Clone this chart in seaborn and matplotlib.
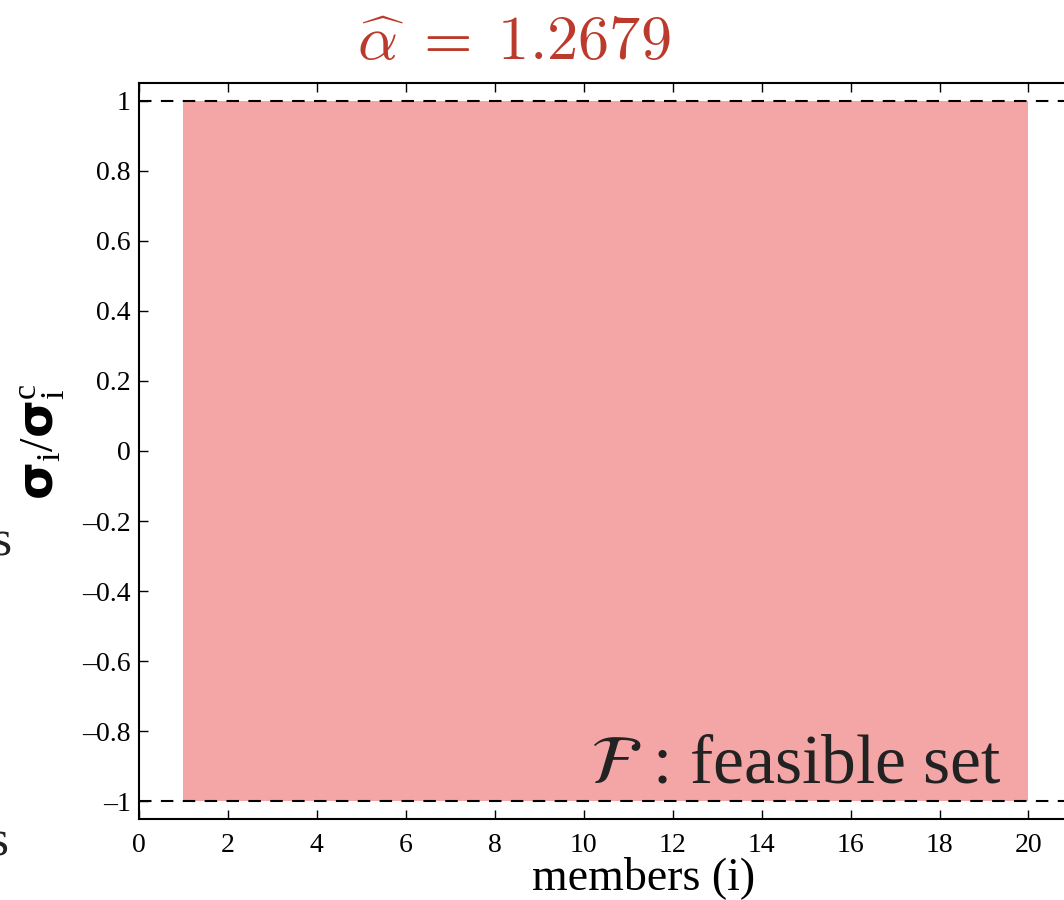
import numpy as np
import matplotlib
matplotlib.use("Agg")
import matplotlib.pyplot as plt
import seaborn as sns

# members of the structure and the admissible stress-ratio band
members = [1, 2, 3, 4, 5, 6, 7, 8, 9, 10, 11, 12, 13, 14, 15, 16, 17, 18, 19, 20]
ratio_upper = [1.0, 1.0, 1.0, 1.0, 1.0, 1.0, 1.0, 1.0, 1.0, 1.0,
               1.0, 1.0, 1.0, 1.0, 1.0, 1.0, 1.0, 1.0, 1.0, 1.0]
ratio_lower = [-1.0, -1.0, -1.0, -1.0, -1.0, -1.0, -1.0, -1.0, -1.0, -1.0,
               -1.0, -1.0, -1.0, -1.0, -1.0, -1.0, -1.0, -1.0, -1.0, -1.0]
bounds = [-1.0, 1.0]
alpha_hat = 1.2679

x_ticks = [0, 2, 4, 6, 8, 10, 12, 14, 16, 18, 20]
y_ticks = [-1, -0.8, -0.6, -0.4, -0.2, 0, 0.2, 0.4, 0.6, 0.8, 1]
y_ticklabels = ["\u20131", "\u20130.8", "\u20130.6", "\u20130.4", "\u20130.2", "0",
                "0.2", "0.4", "0.6", "0.8", "1"]

sns.set_theme(style="ticks")
plt.rcParams["font.family"] = ["Liberation Serif", "DejaVu Serif"]
plt.rcParams["mathtext.fontset"] = "custom"
plt.rcParams["mathtext.rm"] = "Liberation Serif"
plt.rcParams["mathtext.it"] = "Liberation Serif:italic"
plt.rcParams["mathtext.bf"] = "DejaVu Sans:bold"

fig = plt.figure(figsize=(10.64, 9.0), dpi=100)
ax = fig.add_axes([0.1306, 0.09, 0.8778, 0.8178])

# feasible region
ax.fill_between(members, ratio_lower, ratio_upper, color="#F4A6A6", linewidth=0, zorder=1)

# stress-ratio limits
for b in bounds:
    ax.axhline(b, color="black", linewidth=1.5, dashes=(6, 4.5), zorder=2)

ax.set_xlim(0, 21)
ax.set_ylim(-1.05, 1.05)
ax.set_xticks(x_ticks)
ax.set_xticklabels([str(t) for t in x_ticks])
ax.set_yticks(y_ticks)
ax.set_yticklabels(y_ticklabels)

for side in ["left", "right", "top", "bottom"]:
    ax.spines[side].set_visible(True)
    ax.spines[side].set_color("black")
    ax.spines[side].set_linewidth(1.5)

ax.tick_params(axis="both", which="major", direction="in", length=6.5, width=1.0,
               color="black", labelsize=20, labelcolor="black",
               top=True, right=True)
ax.tick_params(axis="x", pad=10)
ax.tick_params(axis="y", pad=6)

ax.set_xlabel("members (i)", fontsize=33, color="black")
ax.xaxis.set_label_coords(0.5407, -0.05)

ax.set_ylabel(r"$\mathbf{\sigma}_{\mathrm{i}}/\mathbf{\sigma}_{\mathrm{i}}^{\mathrm{c}}$",
              fontsize=35, color="black")
ax.yaxis.set_label_coords(-0.077, 0.512)

ax.text(19.4, -0.946, r"$\mathcal{F}$ : feasible set", fontsize=50, color="#222222",
        ha="right", va="baseline", math_fontfamily="stix", zorder=3)

fig.text(0.483, 1 - 60 / 900, r"$\widehat{\alpha}\;=\;%.4f$" % alpha_hat,
         fontsize=45, color="#BC3A2B", ha="center", va="baseline",
         math_fontfamily="cm")

# edge of the neighbouring panel's labels
fig.text(12 / 1064, 1 - 555 / 900, "rs", fontsize=37, color="#222222",
         ha="right", va="baseline")
fig.text(9 / 1064, 1 - 855 / 900, "s", fontsize=37, color="#222222",
         ha="right", va="baseline")

fig.savefig("out.png", dpi=100)
